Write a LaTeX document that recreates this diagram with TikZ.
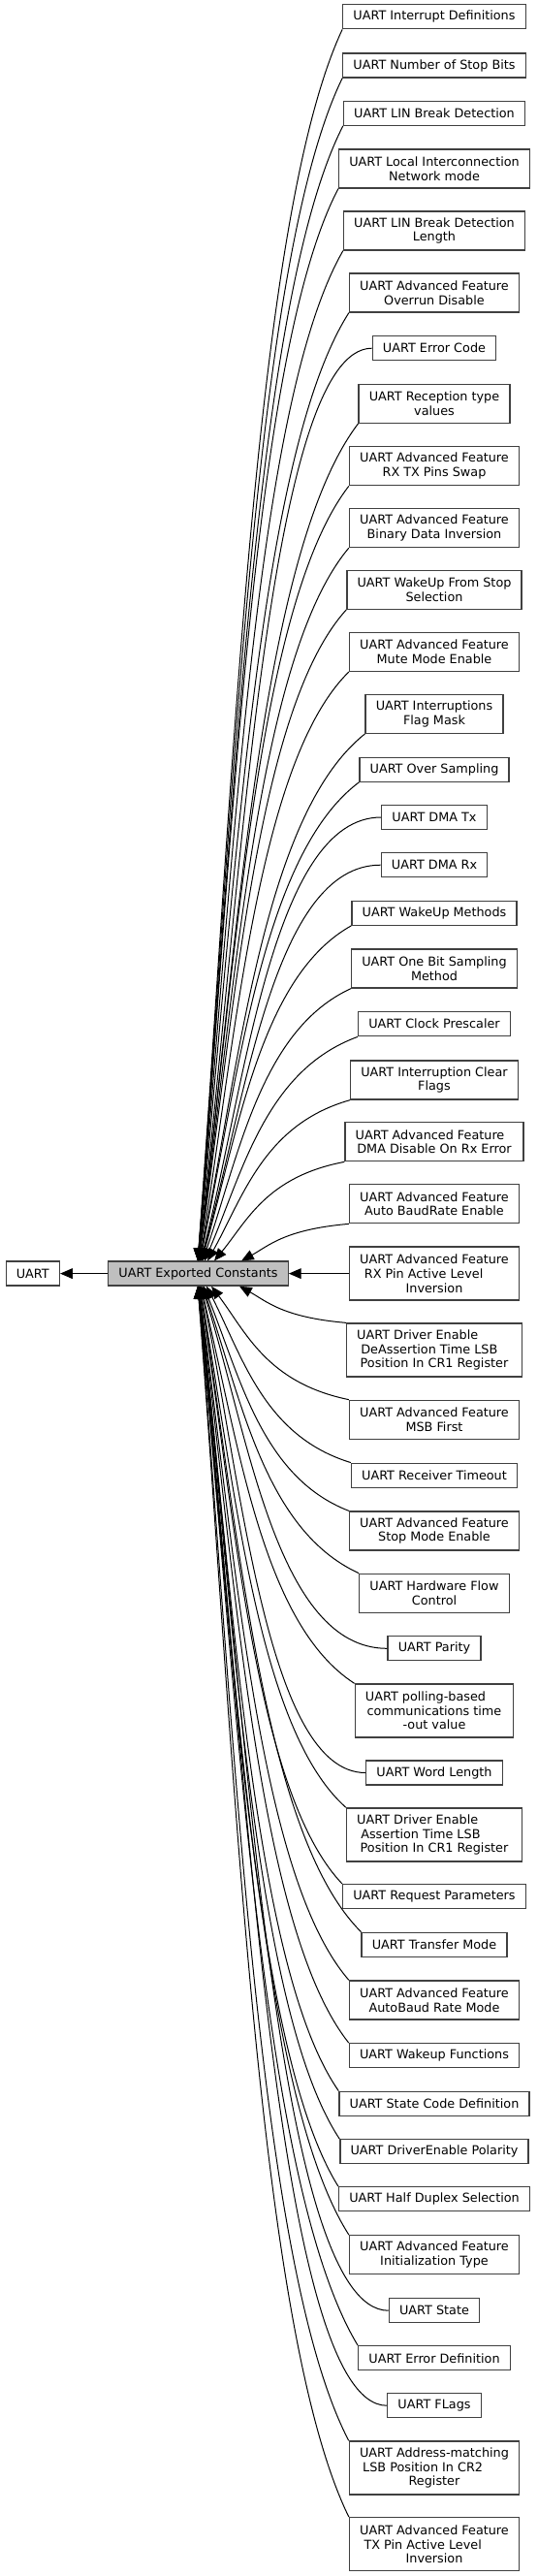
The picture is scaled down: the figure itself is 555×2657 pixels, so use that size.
\documentclass[tikz,border=0pt]{standalone}
\usepackage{fontspec}
\setmainfont{DejaVu Sans}
\usetikzlibrary{arrows.meta,calc}
\definecolor{frame}{HTML}{404040}
\definecolor{self}{HTML}{BFBFBF}
\newcommand{\padr}[1]{\rule{#1}{0pt}}
\tikzset{grp/.style={draw=frame,fill=white,line width=1pt,font=\fontsize{9.6}{11}\selectfont,
    align=center,inner xsep=8pt,inner ysep=0pt,minimum height=18.75pt},
  two/.style={grp,minimum height=30pt},three/.style={grp,minimum height=41.25pt},
  focus/.style={grp,fill=self},
  dep/.style={line width=.75pt,-{Triangle[length=9.5pt,width=8pt]}},
  swing/.style={to path={let \p1=(\tikztostart),\p2=(\tikztotarget) in
    .. controls ({\x1-.6*(\x1-\x2)},{\y1+#1*(\y2-\y1)}) and ({\x2+.25*(\x1-\x2)},{\y2-.4*(\y2-\y1)}) .. (\p2)}}}
\begin{document}
\begin{tikzpicture}[x=.75pt,y=-.75pt]
\useasboundingbox (0,0) rectangle (555,2657);
\node[grp] (uart) at (33.8,1313.6) {UART};
\node[focus] (consts) at (204.5,1313.6) {UART Exported Constants};
\node[grp] (intdef) at (448,17.2) {UART Interrupt Definitions};
\node[grp] (stopbits) at (448,67.5) {UART Number of Stop Bits};
\node[grp] (linbrk) at (448,116.7) {UART LIN Break Detection};
\node[two] (lin) at (448,174) {UART Local Interconnection\\Network mode};
\node[two] (linlen) at (448,238) {UART LIN Break Detection\\Length};
\node[two] (ovrdis) at (448,302) {UART Advanced Feature\\Overrun Disable};
\node[grp] (errcode) at (448,359.2) {UART Error Code};
\node[two] (rxtype) at (448,416.3) {UART Reception type\\values};
\node[two] (swap) at (448,480.7) {UART Advanced Feature\\RX TX Pins Swap};
\node[two] (datainv) at (448,544.5) {UART Advanced Feature\\Binary Data Inversion};
\node[two] (wakestop) at (448,608.3) {UART WakeUp From Stop\\Selection};
\node[two] (mute) at (448,672.3) {UART Advanced Feature\\Mute Mode Enable};
\node[two] (itmask) at (448,736.3) {UART Interruptions\\Flag Mask};
\node[grp] (oversamp) at (448,793.7) {UART Over Sampling};
\node[grp] (dmatx) at (448,843) {UART DMA Tx};
\node[grp] (dmarx) at (448,892.2) {UART DMA Rx};
\node[grp] (wakemeth) at (448,941.7) {UART WakeUp Methods};
\node[two] (onebit) at (448,999) {UART One Bit Sampling\\Method};
\node[grp] (clkpresc) at (448,1056.2) {UART Clock Prescaler};
\node[two] (itclear) at (448,1114) {UART Interruption Clear\\Flags};
\node[two] (dmadis) at (448,1177.7) {UART Advanced Feature\padr{.7em}\\DMA Disable On Rx Error};
\node[two] (autobaud) at (448,1241.7) {UART Advanced Feature\\Auto BaudRate Enable};
\node[three] (rxinv) at (448,1313.6) {UART Advanced Feature\\RX Pin Active Level\padr{1.7em}\\Inversion};
\node[three] (deassert) at (448,1392.5) {UART Driver Enable\padr{2.7em}\\DeAssertion Time LSB\padr{.8em}\\Position In CR1 Register};
\node[two] (msb) at (448,1464.3) {UART Advanced Feature\\MSB First};
\node[grp] (rto) at (448,1521.7) {UART Receiver Timeout};
\node[two] (stopmode) at (448,1579) {UART Advanced Feature\\Stop Mode Enable};
\node[two] (hwflow) at (448,1643.3) {UART Hardware Flow\\Control};
\node[grp] (parity) at (448,1700.3) {UART Parity};
\node[three] (timeout) at (448,1764.5) {UART polling-based\padr{1.4em}\\communications time\\-out value};
\node[grp] (wordlen) at (448,1828.5) {UART Word Length};
\node[three] (assert) at (448,1892.5) {UART Driver Enable\padr{2.7em}\\Assertion Time LSB\padr{2.2em}\\Position In CR1 Register};
\node[grp] (request) at (448,1956.2) {UART Request Parameters};
\node[grp] (xfer) at (448,2005.8) {UART Transfer Mode};
\node[two] (abrmode) at (448,2063) {UART Advanced Feature\\AutoBaud Rate Mode};
\node[grp] (wakefun) at (448,2120.2) {UART Wakeup Functions};
\node[grp] (statecode) at (448,2169.8) {UART State Code Definition};
\node[grp] (depol) at (448,2219.2) {UART DriverEnable Polarity};
\node[grp] (halfdup) at (448,2268.2) {UART Half Duplex Selection};
\node[two] (inittype) at (448,2325.7) {UART Advanced Feature\\Initialization Type};
\node[grp] (state) at (448,2383.2) {UART State};
\node[grp] (errdef) at (448,2432.2) {UART Error Definition};
\node[grp] (flags) at (448,2481.2) {UART FLags};
\node[three] (addr) at (448,2545.5) {UART Address-matching\\LSB Position In CR2\padr{1.85em}\\Register};
\node[three] (txinv) at (448,2624.2) {UART Advanced Feature\\TX Pin Active Level\padr{1.85em}\\Inversion};
\draw[dep] (consts) -- (uart);
\draw[dep] (rxinv) -- (consts);
\foreach \n/\a/\k/\e in {intdef/south west/.15/93,stopbits/south west/.15/93,linbrk/south west/.15/93,
  lin/south west/.15/93,linlen/south west/.15/93,ovrdis/south west/.15/93,errcode/west/0/93,
  rxtype/south west/.15/94,swap/south west/.15/94,datainv/south west/.15/94,wakestop/south west/.15/94,
  mute/south west/.15/95,itmask/south west/.15/95,oversamp/south west/.15/95,dmatx/west/0/96,
  dmarx/west/0/96,wakemeth/south west/.15/97,onebit/south west/.15/98,clkpresc/south west/.15/100,
  itclear/south west/.15/103,dmadis/south west/.15/110,autobaud/south west/.15/138}
  \draw[dep] (\n.\a) to[swing=\k] ($(consts.north west)+(\e,0)$);
\foreach \n/\a/\k/\e in {deassert/north west/.15/136,msb/north west/.15/107,rto/north west/.15/102,
  stopmode/north west/.15/99,hwflow/north west/.15/98,parity/west/0/97,timeout/north west/.15/96,
  wordlen/west/0/96,assert/north west/.15/95,request/north west/.15/95,xfer/north west/.15/95,
  abrmode/north west/.15/94,wakefun/north west/.15/94,statecode/north west/.15/94,depol/north west/.15/94,
  halfdup/north west/.15/93,inittype/north west/.15/93,state/west/0/93,errdef/north west/.15/93,
  flags/west/0/93,addr/north west/.15/93,txinv/north west/.15/93}
  \draw[dep] (\n.\a) to[swing=\k] ($(consts.south west)+(\e,0)$);
\end{tikzpicture}
\end{document}
